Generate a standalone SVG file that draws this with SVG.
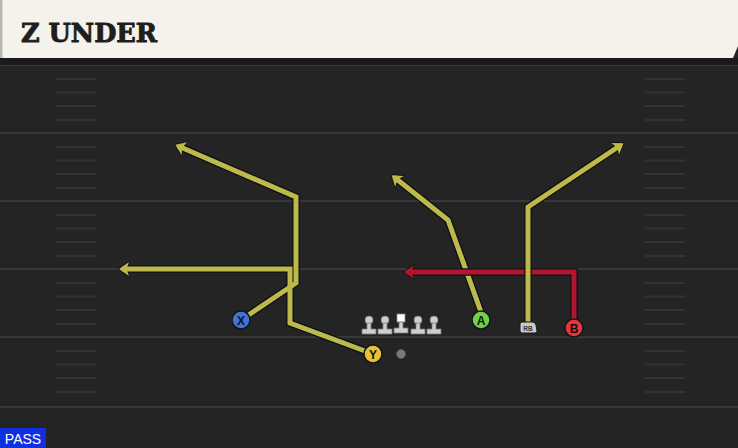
<svg xmlns="http://www.w3.org/2000/svg" width="738" height="448" viewBox="0 0 738 448">
<style>
.yl{stroke:#383838;stroke-width:2}
.hash{stroke:#333333;stroke-width:2}
.out{fill:none;stroke:#0e0e14;stroke-width:7.5;stroke-linejoin:miter}
.yr{fill:none;stroke:#bbba4b;stroke-width:5;stroke-linejoin:miter}
.rr{fill:none;stroke:#b3152f;stroke-width:5;stroke-linejoin:miter}
.pl{stroke:#15151a;stroke-width:1.5}
.lt{font-family:"Liberation Sans",Arial,sans-serif;font-weight:bold;font-size:12px;text-anchor:middle;fill:#111}
.ol{fill:#cfcfcf;stroke:#7a7a7a;stroke-width:0.8}
</style>
<defs>
<marker id="ao" markerUnits="userSpaceOnUse" markerWidth="30" markerHeight="30" refX="0" refY="0" orient="auto" viewBox="-15 -15 30 30" overflow="visible">
<path d="M4.5,0 L-8,-8.5 L-5,0 L-8,8.5 Z" fill="#0e0e14"/>
</marker>
<marker id="ay" markerUnits="userSpaceOnUse" markerWidth="30" markerHeight="30" refX="0" refY="0" orient="auto" viewBox="-15 -15 30 30" overflow="visible">
<path d="M3,0 L-7,-7 L-4.5,0 L-7,7 Z" fill="#bbba4b"/>
</marker>
<marker id="ar" markerUnits="userSpaceOnUse" markerWidth="30" markerHeight="30" refX="0" refY="0" orient="auto" viewBox="-15 -15 30 30" overflow="visible">
<path d="M3,0 L-7,-7 L-4.5,0 L-7,7 Z" fill="#b3152f"/>
</marker>
</defs>
<rect x="0" y="0" width="738" height="448" fill="#242424"/>
<g id="field">
<line class="yl" x1="0" y1="65" x2="738" y2="65"/>
<line class="yl" x1="0" y1="133" x2="738" y2="133"/>
<line class="yl" x1="0" y1="201" x2="738" y2="201"/>
<line class="yl" x1="0" y1="269" x2="738" y2="269"/>
<line class="yl" x1="0" y1="337" x2="738" y2="337"/>
<line class="yl" x1="0" y1="407" x2="738" y2="407"/>
<path class="hash" d="M56,79H96M56,92.5H96M56,106H96M56,120H96M56,147H96M56,160.5H96M56,174H96M56,188H96M56,215H96M56,228.5H96M56,242H96M56,256H96M56,283H96M56,296.5H96M56,310H96M56,324H96M56,351H96M56,364.5H96M56,378H96M56,392H96M645,79H685M645,92.5H685M645,106H685M645,120H685M645,147H685M645,160.5H685M645,174H685M645,188H685M645,215H685M645,228.5H685M645,242H685M645,256H685M645,283H685M645,296.5H685M645,310H685M645,324H685M645,351H685M645,364.5H685M645,378H685M645,392H685"/>
</g>
<g id="header">
<rect x="0" y="58" width="738" height="7" fill="#1a1a1a"/>
<path d="M0,0 H738 V46 L733,58 H0 Z" fill="#f5f2eb"/>
<rect x="0" y="0" width="2.5" height="58" fill="#b5b5b5"/>
<text x="21" y="42" font-family="'DejaVu Serif',serif" font-weight="bold" font-size="26" fill="#1e1e1e" stroke="#1e1e1e" stroke-width="0.9" textLength="136" lengthAdjust="spacingAndGlyphs">Z UNDER</text>
</g>
<g id="connectors">
<path class="out" d="M241,320 L296,283 L296,197 L178,146" marker-end="url(#ao)"/>
<path class="out" d="M373,354 L290,323 L290,269 L122,269" marker-end="url(#ao)"/>
<path class="out" d="M481,312 L448,220 L394,177" marker-end="url(#ao)"/>
<path id="route-x" class="yr" d="M241,320 L296,283 L296,197 L178,146" marker-end="url(#ay)"/>
<path id="route-y" class="yr" d="M373,354 L290,323 L290,269 L122,269" marker-end="url(#ay)"/>
<path id="route-a" class="yr" d="M481,312 L448,220 L394,177" marker-end="url(#ay)"/>
<path class="out" d="M574,326 L574,272 L407,272" marker-end="url(#ao)"/>
<path id="route-b" class="rr" d="M574,326 L574,272 L407,272" marker-end="url(#ar)"/>
<path class="out" d="M528,326 L528,207 L621,145" marker-end="url(#ao)"/>
<path id="route-rb" class="yr" d="M528,326 L528,207 L621,145" marker-end="url(#ay)"/>
</g>
<g id="line">
<g id="lt"><circle class="ol" cx="369" cy="320" r="4"/><path class="ol" d="M367,323 H371 V329 H376 V334 H362 V329 H367 Z"/></g>
<g id="lg"><circle class="ol" cx="385" cy="320" r="4"/><path class="ol" d="M383,323 H387 V329 H392 V334 H378 V329 H383 Z"/></g>
<g id="c"><rect x="397" y="314" width="8" height="8" fill="#ffffff" stroke="#888" stroke-width="0.8"/><path class="ol" d="M399,322 H403 V328 H408 V333 H394 V328 H399 Z"/></g>
<g id="rg"><circle class="ol" cx="418" cy="320" r="4"/><path class="ol" d="M416,323 H420 V329 H425 V334 H411 V329 H416 Z"/></g>
<g id="rt"><circle class="ol" cx="434" cy="320" r="4"/><path class="ol" d="M432,323 H436 V329 H441 V334 H427 V329 H432 Z"/></g>
</g>
<g id="ball"><circle cx="401" cy="354" r="4.5" fill="#7a7a7a" stroke="#555" stroke-width="0.8"/></g>
<g id="player-x"><circle class="pl" cx="241" cy="320" r="9" fill="#3f74d8"/><text class="lt" x="241" y="324.5">X</text></g>
<g id="player-y"><circle class="pl" cx="373" cy="354" r="9" fill="#e9c233"/><text class="lt" x="373" y="358.5">Y</text></g>
<g id="player-a"><circle class="pl" cx="481" cy="320" r="9" fill="#6fd145"/><text class="lt" x="481" y="324.5">A</text></g>
<g id="player-rb"><path d="M520,324 Q520,322 522,322 H533 Q535,322 536,325 L537,331 Q537,333 535,333 H522 Q520,333 520,331 Z" fill="#c9c9c9" stroke="#15151a" stroke-width="1"/><text x="528" y="331" font-family="'Liberation Sans',Arial,sans-serif" font-weight="bold" font-size="6.5" text-anchor="middle" fill="#333">RB</text></g>
<g id="player-b"><circle class="pl" cx="574" cy="328" r="9" fill="#e8343f"/><text class="lt" x="574" y="332.5">B</text></g>
<g id="pass-tag"><rect x="0" y="428" width="46" height="20" fill="#0f2fe0"/><text x="23" y="444" font-family="'Liberation Sans',Arial,sans-serif" font-size="14" text-anchor="middle" fill="#ffffff">PASS</text></g>
</svg>
